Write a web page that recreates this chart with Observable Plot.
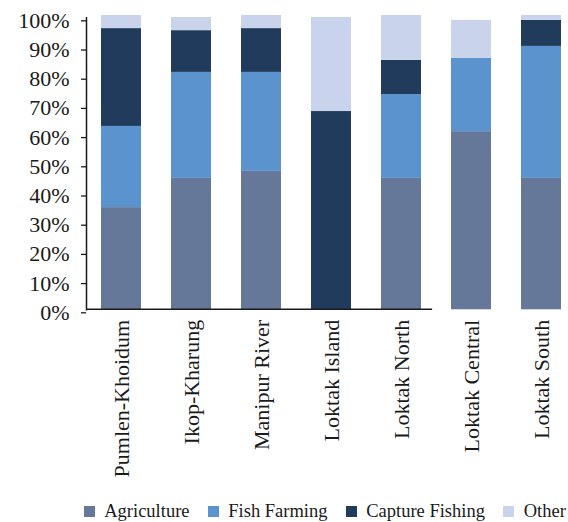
<!DOCTYPE html>
<html><head><meta charset="utf-8">
<script src="https://cdn.jsdelivr.net/npm/d3@7"></script>
<script src="https://cdn.jsdelivr.net/npm/@observablehq/plot@0.6"></script>
<style>
body{margin:0;background:#fff;font-family:"Liberation Serif",serif;}
#chart{width:568px;height:522px;overflow:hidden;}
#chart svg{display:block;}
#leg, #leg div, #leg span{font-family:"Liberation Serif",serif !important;font-size:18.5px !important;color:#1a1a1a !important;}
#leg > div{flex-wrap:nowrap !important;min-height:32px !important;margin:0 !important;}
#leg{margin-left:84px;margin-top:5px;width:600px;}
#leg svg{display:inline !important;}
</style>
</head><body><div id="chart"></div>
<script>
const sites = ["Pumlen-Khoidum","Ikop-Kharung","Manipur River","Loktak Island","Loktak North","Loktak Central","Loktak South"];
const activities = ["Agriculture","Fish Farming","Capture Fishing","Other"];
const agriculture    = [35.0, 45.0, 47.4, 0,    45.0, 61.0, 45.0];
const fishFarming    = [27.8, 36.3, 33.9, 0,    28.7, 25.1, 45.2];
const captureFishing = [33.5, 14.3, 15.0, 67.9, 11.7, 0,    8.9];
const other          = [4.5,  4.5,  4.5,  32.2, 15.4, 13.0, 1.7];
const colors = ["#66789a","#5b93cf","#203b5c","#c9d4ec"];
const yTicks = [0,10,20,30,40,50,60,70,80,90,100];

const series = [agriculture, fishFarming, captureFishing, other];
const data = [];
series.forEach((vals, k) => vals.forEach((v, i) => data.push({site: sites[i], activity: activities[k], value: v})));

const chart = Plot.plot({
  width: 568,
  height: 490,
  marginTop: 17.3,
  marginBottom: 180.7,
  marginLeft: 86,
  marginRight: 0,
  style: {fontFamily: "Liberation Serif, serif", color: "#1a1a1a", background: "#fff", overflow: "visible"},
  x: {domain: sites, range: [86, 576], paddingInner: 0.4286, paddingOuter: 0.2143, align: 0.5},
  y: {domain: [0, 100]},
  color: {domain: activities, range: colors},
  marks: [
    Plot.barY(data, {x: "site", y: "value", fill: "activity"}),
    Plot.axisY({ticks: yTicks, tickFormat: d => d + "%", tickSize: 5, tickPadding: 12, fontSize: 22, dy: 3, label: null, stroke: "#1a1a1a", strokeWidth: 1.3}),
    Plot.axisX({tickRotate: -90, tickSize: 0, tickPadding: 10, fontSize: 22, label: null}),
    Plot.frame({anchor: "left", stroke: "#1a1a1a", strokeWidth: 1.5})
  ]
});

// x axis baseline (in the reference it stops between the 5th and 6th bars)
const xs = chart.scale("x"), ys = chart.scale("y");
const xEnd = xs.apply(sites[4]) + xs.bandwidth + (xs.step - xs.bandwidth) * 0.37;
d3.select(chart).append("line")
  .attr("x1", 86).attr("x2", xEnd)
  .attr("y1", ys.apply(0)).attr("y2", ys.apply(0))
  .attr("stroke", "#1a1a1a").attr("stroke-width", 1.5);

const legend = Plot.legend({
  color: {domain: activities, range: colors},
  legend: "swatches",
  swatchSize: 11
});

const root = document.getElementById("chart");
root.appendChild(chart);
const leg = document.createElement("div");
leg.id = "leg";
leg.appendChild(legend);
root.appendChild(leg);
</script>
</body></html>
